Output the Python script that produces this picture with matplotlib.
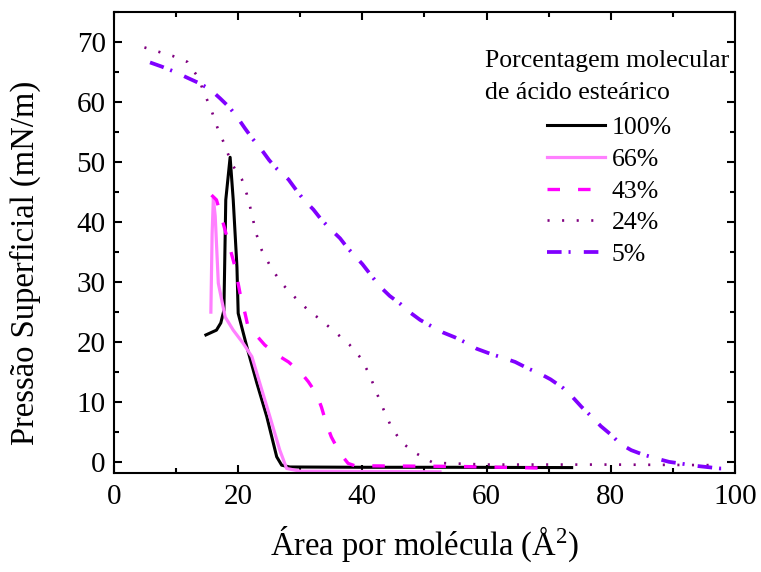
import matplotlib
matplotlib.use('Agg')
import matplotlib.pyplot as plt
from matplotlib.ticker import MultipleLocator

# Isotermas Pi-A das misturas com ácido esteárico
x100 = [14.8, 16.5, 17.2, 17.7, 18.0, 18.7, 19.2, 19.8, 20.0, 21.4, 23.0, 24.6, 26.2, 27.0, 28.3, 40.0, 55.0, 73.7]
y100 = [21.2, 22.0, 23.2, 25.3, 43.7, 50.8, 43.7, 32.5, 24.8, 19.2, 13.2, 7.6, 0.9, -0.5, -0.8, -0.85, -0.85, -0.9]

x66 = [15.6, 15.8, 16.0, 16.3, 16.8, 17.9, 19.2, 20.8, 22.2, 23.5, 25.1, 26.7, 27.8, 30.0, 52.5]
y66 = [25.0, 38.0, 44.0, 41.0, 29.8, 24.2, 22.0, 19.8, 17.6, 13.1, 7.6, 2.0, -1.05, -1.5, -1.6]

x43 = [15.7, 16.5, 17.3, 19.5, 20.3, 21.1, 21.6, 23.2, 24.3, 26.7, 28.1, 30.2, 31.3, 32.6, 33.4, 34.2, 35.0, 36.4, 37.7, 38.8, 55.0, 69.9]
y43 = [44.5, 43.7, 40.9, 32.5, 28.1, 24.8, 22.5, 20.8, 19.5, 17.6, 16.7, 14.8, 13.4, 11.4, 9.2, 6.4, 4.2, 1.5, -0.2, -0.6, -0.7, -1.0]

x24 = [4.9, 7.1, 9.4, 11.8, 13.5, 14.5, 15.7, 16.7, 17.9, 18.9, 20.6, 21.4, 22.2, 22.8, 23.8, 25.2, 26.9,
       29.0, 31.1, 33.3, 35.7, 37.9, 39.7, 41.1, 42.2, 43.4, 44.6, 46.3, 48.5, 51.4, 60.0, 80.0, 97.5]
y24 = [69.1, 68.4, 67.7, 66.7, 64.2, 61.6, 58.6, 55.6, 52.7, 49.8, 47.1, 44.6, 41.4, 38.4, 35.3, 32.6, 29.9,
       27.6, 25.5, 23.7, 21.6, 19.6, 17.4, 14.7, 11.8, 8.8, 6.0, 3.3, 1.55, -0.1, -0.4, -0.4, -0.5]

x5 = [5.8, 7.7, 10.1, 11.7, 13.6, 15.5, 17.1, 18.6, 19.9, 21.1, 22.3, 23.8, 25.0, 26.3, 28.1, 29.3, 30.5,
      32.1, 33.4, 34.8, 36.4, 37.6, 40.0, 41.5, 42.8, 44.4, 46.2, 47.6, 49.3, 51.2, 53.0, 54.9, 56.7, 58.4,
      60.5, 62.6, 64.6, 66.7, 68.5, 70.3, 72.4, 73.8, 75.3, 77.1, 78.4, 79.9, 81.6, 83.3, 85.1, 87.4, 89.4,
      91.1, 93.6, 95.4, 97.6, 100.0]
y5 = [66.6, 65.9, 64.9, 64.1, 63.2, 62.1, 60.6, 59.1, 57.4, 55.6, 53.9, 52.0, 50.3, 48.8, 47.1, 45.4, 43.8,
      42.1, 40.4, 38.9, 37.3, 35.7, 33.0, 31.0, 29.3, 27.7, 26.3, 25.0, 23.7, 22.6, 21.6, 20.8, 19.9, 18.9,
      18.1, 17.4, 16.7, 15.6, 14.8, 13.8, 12.3, 10.9, 9.2, 7.4, 6.0, 4.7, 3.0, 2.0, 1.3, 0.6, 0.05,
      -0.2, -0.6, -0.8, -1.05, -1.05]

labels = ['100%', '66%', '43%', '24%', '5%']

plt.rcParams['font.family'] = ['Liberation Serif', 'DejaVu Serif']
plt.rcParams['mathtext.fontset'] = 'custom'
plt.rcParams['mathtext.rm'] = 'Liberation Serif'
plt.rcParams['lines.scale_dashes'] = False

fig = plt.figure(figsize=(7.61, 5.72), dpi=100)
ax = fig.add_axes([0.1498, 0.1731, 0.8160, 0.8059])

ax.plot(x100, y100, color='black', lw=2.2, label=labels[0])
ax.plot(x66, y66, color='#FF80FF', lw=2.3, label=labels[1])
ax.plot(x43, y43, color='#FF00FF', lw=2.4, dashes=(9, 13), label=labels[2])
ax.plot(x24, y24, color='#800080', lw=1.9, dashes=(1.5, 9), label=labels[3])
ax.plot(x5, y5, color='#8000FF', lw=2.7, dashes=(10.5, 5, 1.5, 9.5), label=labels[4])

ax.set_xlim(0, 100)
ax.set_ylim(-1.8, 75)
ax.xaxis.set_major_locator(MultipleLocator(20))
ax.xaxis.set_minor_locator(MultipleLocator(10))
ax.yaxis.set_major_locator(MultipleLocator(10))
ax.yaxis.set_minor_locator(MultipleLocator(5))
ax.tick_params(which='both', direction='in', top=True, right=True, width=1.5, labelsize=21)
ax.tick_params(which='major', length=6)
ax.tick_params(which='minor', length=3.5)
ax.tick_params(axis='x', pad=8)
ax.tick_params(axis='y', pad=6)
for s in ax.spines.values():
    s.set_linewidth(1.5)

ax.set_xlabel(r'Área por molécula (Å$\mathrm{^2}$)', fontsize=23.5)
ax.set_ylabel('Pressão Superficial (mN/m)', fontsize=23.5)
ax.xaxis.set_label_coords(0.5, -0.112)
ax.yaxis.set_label_coords(-0.118, 0.455)

ax.text(0.597, 0.917, 'Porcentagem molecular\nde ácido esteárico', transform=ax.transAxes,
        fontsize=18.5, va='top', ha='left', linespacing=1.6)
ax.legend(loc='upper left', bbox_to_anchor=(0.697, 0.774), frameon=False, fontsize=18.5,
          handlelength=2.26, handletextpad=0.27, labelspacing=0.34, borderpad=0, borderaxespad=0)

fig.savefig('out.png', dpi=100)
